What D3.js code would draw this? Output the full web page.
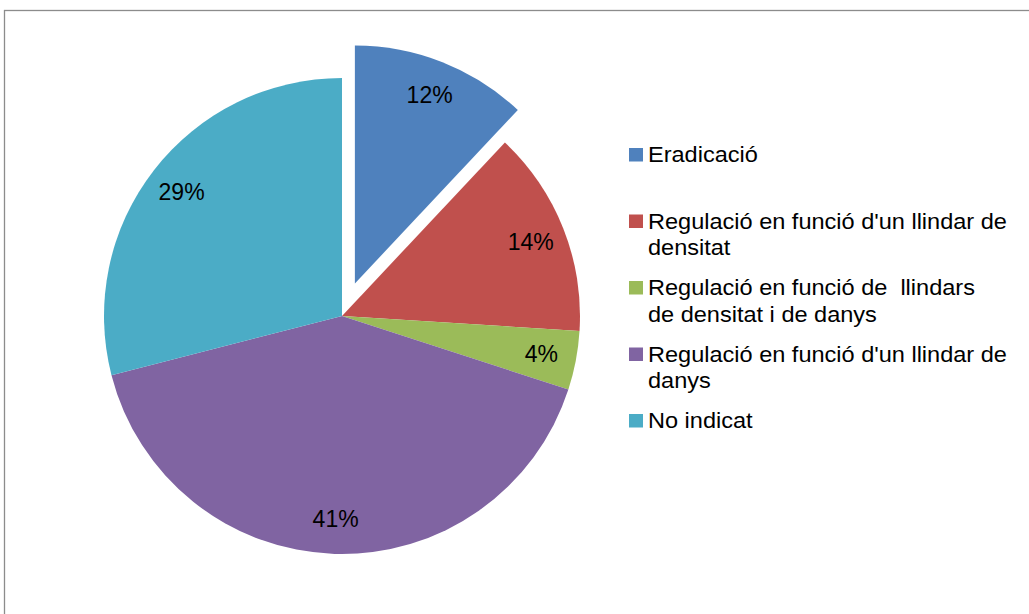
<!DOCTYPE html>
<html>
<head>
<meta charset="utf-8">
<script src="https://cdn.jsdelivr.net/npm/d3@7"></script>
<style>
  html, body { margin: 0; padding: 0; background: #fff; }
  svg { display: block; }
  text { font-family: "Liberation Sans", Arial, sans-serif; fill: #000; white-space: pre; }
</style>
</head>
<body>
<svg id="chart" width="1029" height="614"></svg>
<script>
// Categories (legend lines) and their shares in percent
const categories = [
  "Eradicació",
  "Regulació en funció d'un llindar de densitat",
  "Regulació en funció de  llindars de densitat i de danys",
  "Regulació en funció d'un llindar de danys",
  "No indicat"
];
const legendLines = [
  ["Eradicació"],
  ["Regulació en funció d'un llindar de", "densitat"],
  ["Regulació en funció de  llindars", "de densitat i de danys"],
  ["Regulació en funció d'un llindar de", "danys"],
  ["No indicat"]
];
const values = [12, 14, 4, 41, 29];
const colors = ["#4F81BD", "#C0504D", "#9BBB59", "#8064A2", "#4BACC6"];
const exploded = [true, false, false, false, false];

const svg = d3.select("#chart");

// Chart area frame
svg.append("rect")
  .attr("x", 4.5).attr("y", 10.5)
  .attr("width", 1100).attr("height", 700)
  .attr("fill", "none")
  .attr("stroke", "#8c8c8c")
  .attr("stroke-width", 1.3);

const cx = 342, cy = 316, r = 238, explode = 35, labelR = 203;

const pie = d3.pie().sort(null).value(d => d).startAngle(0).endAngle(2 * Math.PI);
const arcs = pie(values);
const arc = d3.arc().innerRadius(0).outerRadius(r);
const labelArc = d3.arc().innerRadius(labelR).outerRadius(labelR);

const g = svg.append("g").attr("transform", `translate(${cx},${cy})`);

const offset = (d, i) => {
  if (!exploded[i]) return [0, 0];
  const mid = (d.startAngle + d.endAngle) / 2;
  return [Math.sin(mid) * explode, -Math.cos(mid) * explode];
};

const slices = g.selectAll("g.slice")
  .data(arcs)
  .join("g")
  .attr("class", "slice")
  .attr("transform", (d, i) => `translate(${offset(d, i)})`);

slices.append("path")
  .attr("d", arc)
  .attr("fill", (d, i) => colors[i]);

slices.append("text")
  .attr("transform", d => `translate(${labelArc.centroid(d)})`)
  .attr("text-anchor", "middle")
  .attr("dy", "0.36em")
  .attr("font-size", 23)
  .text(d => d.data + "%");

// Legend
const legendY = d3.scaleLinear().domain([0, 1]).range([162, 228.5]);
const legend = svg.append("g");
const items = legend.selectAll("g.item")
  .data(categories)
  .join("g")
  .attr("class", "item")
  .attr("transform", (d, i) => `translate(0,${legendY(i)})`);

items.append("rect")
  .attr("x", 629).attr("y", -14)
  .attr("width", 14).attr("height", 13.5)
  .attr("fill", (d, i) => colors[i]);

items.each(function(d, i) {
  const t = d3.select(this).append("g")
    .attr("transform", "translate(648,0) scale(1.07,1)");
  t.selectAll("text")
    .data(legendLines[i])
    .join("text")
    .attr("x", 0)
    .attr("y", (s, j) => j * 27)
    .attr("font-size", 22)
    .text(s => s);
});
</script>
</body>
</html>
